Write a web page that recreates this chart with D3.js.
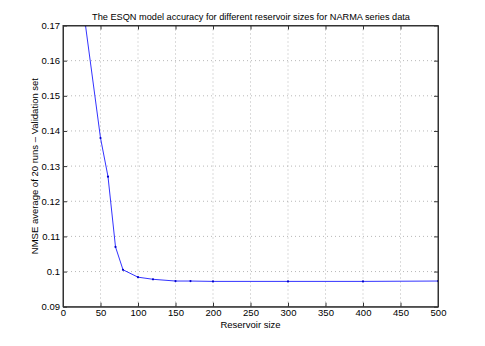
<!DOCTYPE html>
<html><head><meta charset="utf-8">
<script src="https://cdn.jsdelivr.net/npm/d3@7"></script>
<style>body{margin:0;background:#fff}svg{display:block}text{font-family:"Liberation Sans",Arial,sans-serif;fill:#000}</style>
</head><body>
<script>
const sizes = [30, 50, 60, 70, 80, 100, 120, 150, 170, 200, 300, 400, 500];
const nmse = [0.1700, 0.1380, 0.1270, 0.1070, 0.1005, 0.0984, 0.0978, 0.0973, 0.0973, 0.0972, 0.0972, 0.0972, 0.0973];
const xTicks = [0,50,100,150,200,250,300,350,400,450,500];
const yTicks = [0.09,0.1,0.11,0.12,0.13,0.14,0.15,0.16,0.17];
const title = "The ESQN model accuracy for different reservoir sizes for NARMA series data";
const xLabel = "Reservoir size";
const yLabel = "NMSE average of 20 runs \u2013 Validation set";

const W=485,H=346, L=63,R=438,T=25.5,B=306.7;
const svg=d3.select("body").append("svg").attr("width",W).attr("height",H);
const x=d3.scaleLinear().domain([0,500]).range([L,R]);
const y=d3.scaleLinear().domain([0.09,0.17]).range([B,T]);
const g=svg.append("g");
g.selectAll(".gx").data(xTicks.slice(1,-1)).join("line").attr("x1",d=>x(d)).attr("x2",d=>x(d)).attr("y1",T).attr("y2",B)
 .attr("stroke","#999").attr("stroke-width",0.7).attr("stroke-dasharray","1,3");
g.selectAll(".gy").data(yTicks.slice(1,-1)).join("line").attr("y1",d=>y(d)).attr("y2",d=>y(d)).attr("x1",L).attr("x2",R)
 .attr("stroke","#999").attr("stroke-width",0.7).attr("stroke-dasharray","1,3");
svg.append("clipPath").attr("id","c").append("rect").attr("x",L).attr("y",T).attr("width",R-L).attr("height",B-T);
const data=sizes.map((s,i)=>[s,nmse[i]]);
const pg=svg.append("g").attr("clip-path","url(#c)");
pg.append("path").datum(data).attr("d",d3.line().x(d=>x(d[0])).y(d=>y(d[1]))).attr("fill","none").attr("stroke","#3333ff").attr("stroke-width",1);
pg.selectAll("circle").data(data).join("circle").attr("cx",d=>x(d[0])).attr("cy",d=>y(d[1])).attr("r",1.1).attr("fill","#0000cc");
svg.append("g").attr("transform",`translate(0,${B})`).call(d3.axisBottom(x).tickValues(xTicks).tickSizeInner(-4).tickSizeOuter(0).tickPadding(3).tickFormat(d3.format("d")));
svg.append("g").attr("transform",`translate(${L},0)`).call(d3.axisLeft(y).tickValues(yTicks).tickSizeInner(-4).tickSizeOuter(0).tickPadding(3).tickFormat(d=>String(+d.toFixed(2))));
svg.append("g").attr("transform",`translate(0,${T})`).call(d3.axisTop(x).tickValues(xTicks).tickSizeInner(-4).tickSizeOuter(0).tickFormat(""));
svg.append("g").attr("transform",`translate(${R},0)`).call(d3.axisRight(y).tickValues(yTicks).tickSizeInner(-4).tickSizeOuter(0).tickFormat(""));
svg.selectAll(".domain").attr("stroke","#333");
svg.selectAll(".tick line").attr("stroke","#333");
svg.selectAll(".tick text").attr("font-size",9.5).attr("font-family","Liberation Sans, Arial, sans-serif").attr("fill","#000");
svg.append("rect").attr("x",L).attr("y",T).attr("width",R-L).attr("height",B-T).attr("fill","none").attr("stroke","#333").attr("stroke-width",1);
svg.append("text").attr("x",(L+R)/2+0.5).attr("y",20).attr("text-anchor","middle").attr("font-size",9.2).text(title);
svg.append("text").attr("x",(L+R)/2).attr("y",328).attr("text-anchor","middle").attr("font-size",9.5).text(xLabel);
svg.append("text").attr("transform",`translate(38,${(T+B)/2}) rotate(-90)`).attr("text-anchor","middle").attr("font-size",9.5).text(yLabel);
</script>
</body></html>
